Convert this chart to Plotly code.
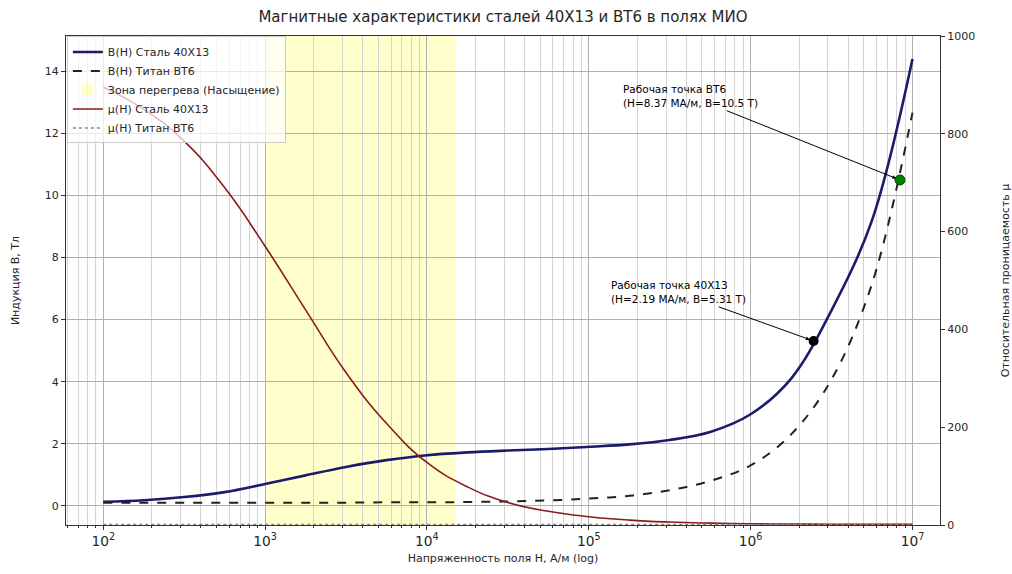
import math
import plotly.graph_objects as go

# ---------------- data ----------------
# field strength H, A/m (quarter-decade steps from 1e2 to 1e7)
H_vals = [1.0e2, 1.78e2, 3.16e2, 5.62e2, 1.0e3, 1.78e3, 3.16e3, 5.62e3, 1.0e4, 1.78e4, 3.16e4,
          5.62e4, 1.0e5, 1.78e5, 3.16e5, 5.62e5, 1.0e6, 1.78e6, 3.16e6, 5.62e6, 1.0e7]
B_steel = [0.13, 0.18, 0.28, 0.44, 0.70, 0.98, 1.25, 1.47, 1.63, 1.72, 1.78,
           1.83, 1.90, 1.98, 2.12, 2.38, 2.95, 4.1, 6.3, 9.2, 14.4]
B_titan = [0.10, 0.10, 0.10, 0.10, 0.10, 0.10, 0.10, 0.11, 0.11, 0.12, 0.14,
           0.17, 0.23, 0.32, 0.50, 0.80, 1.30, 2.3, 4.07, 7.15, 12.67]
mu_steel = [895, 850, 785, 690, 570, 440, 312, 208, 128, 78, 46,
            28, 17, 10, 6, 3.8, 2.5, 2.0, 1.6, 1.35, 1.2]
mu_titan = [1.0] * len(H_vals)

zone_H = [1e3, 1.5e4]

pt_steel_H, pt_steel_B = 2.45e6, 5.31
pt_titan_H, pt_titan_B = 8.37e6, 10.5
# text anchor points of the two call-outs (H, B)
lbl_titan_H, lbl_titan_B = 4.25e5, 13.2
lbl_steel_H, lbl_steel_B = 3.58e5, 6.88

title = "Магнитные характеристики сталей 40Х13 и ВТ6 в полях МИО"
xlabel = "Напряженность поля H, А/м (log)"
ylabel = "Индукция B, Тл"
y2label = "Относительная проницаемость μ"
legend_names = ["B(H) Сталь 40Х13", "B(H) Титан ВТ6", "Зона перегрева (Насыщение)",
                "μ(H) Сталь 40Х13", "μ(H) Титан ВТ6"]
callouts = ["Рабочая точка ВТ6<br>(H=8.37 МА/м, B=10.5 T)",
            "Рабочая точка 40Х13<br>(H=2.19 МА/м, B=5.31 T)"]

FONT = "DejaVu Sans"
TXT = "#262626"

fig = go.Figure()

fig.add_trace(go.Scatter(x=H_vals, y=B_steel, mode="lines", name=legend_names[0],
                         line=dict(color="#1b1b6b", width=2.6, shape="spline", smoothing=1.0),
                         legendrank=1))
fig.add_trace(go.Scatter(x=H_vals, y=B_titan, mode="lines", name=legend_names[1],
                         line=dict(color="#222222", width=2, dash="dash", shape="spline", smoothing=1.0),
                         legendrank=2))
fig.add_trace(go.Scatter(x=H_vals, y=mu_steel, mode="lines", name=legend_names[3], yaxis="y2",
                         line=dict(color="#8b1a1a", width=1.6, shape="spline", smoothing=1.3),
                         legendrank=4))
fig.add_trace(go.Scatter(x=H_vals, y=mu_titan, mode="lines", name=legend_names[4], yaxis="y2",
                         line=dict(color="#888888", width=1.5, dash="dot"), legendrank=5))

fig.add_trace(go.Scatter(x=[pt_steel_H], y=[pt_steel_B], mode="markers", showlegend=False,
                         marker=dict(color="black", size=10)))
fig.add_trace(go.Scatter(x=[pt_titan_H], y=[pt_titan_B], mode="markers", showlegend=False,
                         marker=dict(color="green", size=10, line=dict(color="#0a3a0a", width=1))))

fig.add_shape(type="rect", xref="x", yref="paper", x0=zone_H[0], x1=zone_H[1], y0=0, y1=1,
              fillcolor="rgba(255,255,0,0.2)", line=dict(width=0), layer="below",
              showlegend=True, name=legend_names[2], legendrank=3)

for (px, py, lx, ly, txt) in [
    (pt_titan_H, pt_titan_B, lbl_titan_H, lbl_titan_B, callouts[0]),
    (pt_steel_H, pt_steel_B, lbl_steel_H, lbl_steel_B, callouts[1]),
]:
    fig.add_annotation(x=math.log10(px), y=py, xref="x", yref="y",
                       ax=math.log10(lx), ay=ly, axref="x", ayref="y",
                       text=txt, align="left",
                       showarrow=True, arrowhead=2, arrowsize=0.8, arrowwidth=1, arrowcolor="black",
                       standoff=4,
                       font=dict(size=10.5, color="black", family=FONT))

tickfont = dict(size=11, color=TXT, family=FONT)

fig.update_layout(
    width=1012, height=574,
    margin=dict(l=66, r=72, t=36, b=49, autoexpand=False),
    paper_bgcolor="white", plot_bgcolor="white",
    font=dict(family=FONT, size=11, color=TXT),
    title=dict(text=title, x=0.5, xref="paper", xanchor="center", y=1 - 17 / 574, yanchor="middle",
               font=dict(size=15, color=TXT, family=FONT)),
    showlegend=True,
    legend=dict(x=0.001, y=0.999, xanchor="left", yanchor="top",
                bgcolor="rgba(255,255,255,0.72)", bordercolor="#cccccc", borderwidth=1,
                font=dict(size=11, family=FONT, color=TXT), tracegroupgap=0, itemwidth=30),
    xaxis=dict(type="log", range=[1.77, 7.17], dtick=1, exponentformat="power",
               showgrid=True, gridcolor="#b0b0b0", gridwidth=0.8, tickfont=tickfont,
               minor=dict(dtick="D1", showgrid=True, gridcolor="#d4d4d4", gridwidth=0.6,
                          ticks="outside", ticklen=2, tickcolor="#333"),
               ticks="outside", ticklen=4, tickcolor="#333", automargin=False,
               showline=True, linecolor="#333", linewidth=1, mirror=True, zeroline=False,
               title=dict(text=xlabel, font=dict(size=11, color=TXT), standoff=6)),
    yaxis=dict(range=[-0.62, 15.14], tick0=0, dtick=2, showgrid=True, gridcolor="#b0b0b0", gridwidth=0.8,
               ticks="outside", ticklen=4, tickcolor="#333", zeroline=False, tickfont=tickfont,
               showline=True, linecolor="#333", linewidth=1, mirror=True, automargin=False,
               title=dict(text=ylabel, font=dict(size=11, color=TXT), standoff=22)),
    yaxis2=dict(overlaying="y", side="right", range=[0, 1000], tick0=0, dtick=200, showgrid=False,
                ticks="outside", ticklen=4, tickcolor="#333", zeroline=False, tickfont=tickfont,
                showline=True, linecolor="#333", linewidth=1, automargin=False,
                title=dict(text=y2label, font=dict(size=11, color=TXT), standoff=35)),
)

fig.write_html("out.html", config={"displayModeBar": False},
               post_script="document.body.style.margin='0px';")
